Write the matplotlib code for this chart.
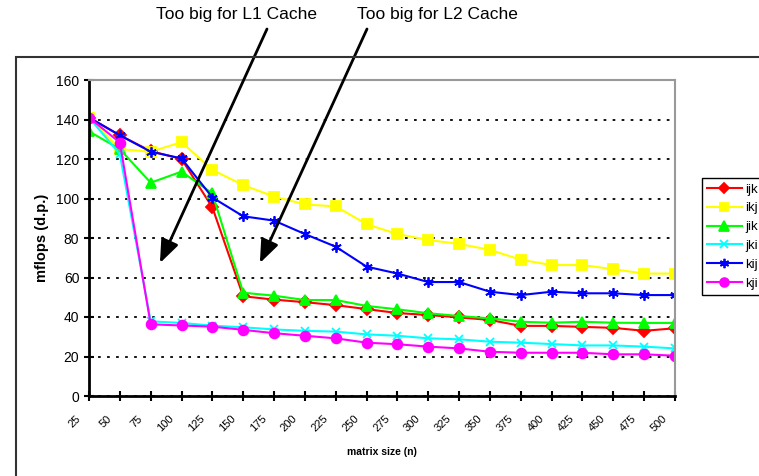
import matplotlib.pyplot as plt
from matplotlib.patches import Rectangle
from matplotlib.transforms import ScaledTranslation

plt.rcParams['font.family'] = ['Liberation Sans', 'DejaVu Sans']

sizes = ['25', '50', '75', '100', '125', '150', '175', '200', '225', '250',
         '275', '300', '325', '350', '375', '400', '425', '450', '475', '500']

ijk = [141, 132, 124, 120, 95.5, 50.5, 48.8, 47.5, 46, 44,
       42, 41, 39.8, 38.5, 35.5, 35.5, 35, 34.5, 33, 34.3]
ikj = [141, 125, 123.7, 128.5, 114.5, 106.8, 101, 97, 96, 87,
       82, 79, 77, 74, 69, 66.3, 66.3, 64.2, 62, 62]
jik = [134, 125, 108, 113.6, 102.6, 52.3, 50.8, 48.6, 48.6, 45.6,
       43.9, 41.9, 40.5, 39.3, 37.6, 37.1, 37.6, 37.1, 37, 37]
jki = [141, 122.5, 37.8, 37, 35.6, 34.8, 33.7, 33, 32.6, 31.2,
       30.5, 29.2, 28.7, 27.5, 27, 26.3, 25.6, 25.6, 25, 24.1]
kij = [141, 132, 123.7, 120.3, 100.5, 91, 88.8, 82, 75.6, 65.5,
       62, 57.7, 57.7, 52.8, 51.1, 52.8, 52, 52, 51.1, 51.1]
kji = [141, 128.3, 36.3, 35.7, 35.1, 33.5, 31.8, 30.5, 29.2, 27,
       26.2, 25, 24.1, 22.4, 21.9, 21.9, 21.9, 21.1, 21.1, 20.4]

series = [('ijk', ijk, '#FF0000', 'D', 6),
          ('ikj', ikj, '#FFFF00', 's', 6.5),
          ('jik', jik, '#00FF00', '^', 7.5),
          ('jki', jki, '#00FFFF', 'x', 6),
          ('kij', kij, '#0000FF', (6, 2, 0), 7.5),
          ('kji', kji, '#FF00FF', 'o', 7)]

W, H = 759, 476
fig = plt.figure(figsize=(W / 100, H / 100), dpi=100)
ax = fig.add_axes([89 / W, 1 - 396 / H, (675 - 89) / W, (396 - 80) / H])

x = list(range(len(sizes)))
for name, vals, col, mk, ms in series:
    ax.plot(x, vals, color=col, marker=mk, markersize=ms, lw=1.5,
            markeredgewidth=1.3, label=name)

ax.set_xlim(0, len(sizes) - 1)
ax.set_ylim(0, 160)
ax.set_yticks(range(0, 161, 20))
ax.set_xticks(x)
ax.set_xticklabels(sizes, rotation=45, ha='right', rotation_mode='anchor', fontsize=8)
ax.tick_params(axis='both', direction='inout', length=7, width=1.5, labelsize=10)
ax.tick_params(axis='x', labelsize=8, pad=9)
for lab in ax.get_xticklabels():
    lab.set_transform(lab.get_transform() + ScaledTranslation(-13 / 100, 0, fig.dpi_scale_trans))
ax.yaxis.grid(True, color='black', linestyle=(0, (1.5, 3.5)), lw=1.3)
ax.set_axisbelow(True)
for s in ['left', 'bottom']:
    ax.spines[s].set_linewidth(2)
for s in ['top', 'right']:
    ax.spines[s].set_color('#999999')
    ax.spines[s].set_linewidth(1.5)

ax.set_ylabel('mflops (d.p.)', fontsize=10.5, fontweight='bold', labelpad=5)
ax.set_xlabel('matrix size (n)', fontsize=7.5, fontweight='bold', labelpad=10)

ax.legend(loc='upper left', bbox_to_anchor=(702 / W, 1 - 178 / H),
          bbox_transform=fig.transFigure, fontsize=9.5, frameon=True,
          fancybox=False, edgecolor='black', framealpha=1, markerscale=0.9,
          handlelength=2.6, handletextpad=0.3, labelspacing=0.5,
          borderpad=0.4, borderaxespad=0)

# outer chart border
fig.add_artist(Rectangle((16 / W, -0.1), 1.0, (H - 57) / H + 0.1, fill=False,
                         lw=1.5, edgecolor='#333333', transform=fig.transFigure))

# callouts
fig.text(236 / W, 1 - 14 / H, 'Too big for L1 Cache', ha='center', va='center', fontsize=12.5)
fig.text(437 / W, 1 - 14 / H, 'Too big for L2 Cache', ha='center', va='center', fontsize=12.5)
arrow = dict(arrowstyle='-|>,head_length=1.4,head_width=0.55', color='black', lw=2,
             shrinkA=0, shrinkB=0)
ax.annotate('', xy=(2.3, 67.3), xycoords='data',
            xytext=(267 / W, 1 - 29 / H), textcoords='figure fraction', arrowprops=arrow)
ax.annotate('', xy=(5.54, 67.3), xycoords='data',
            xytext=(367 / W, 1 - 29 / H), textcoords='figure fraction', arrowprops=arrow)

plt.savefig('out.png', dpi=100)
